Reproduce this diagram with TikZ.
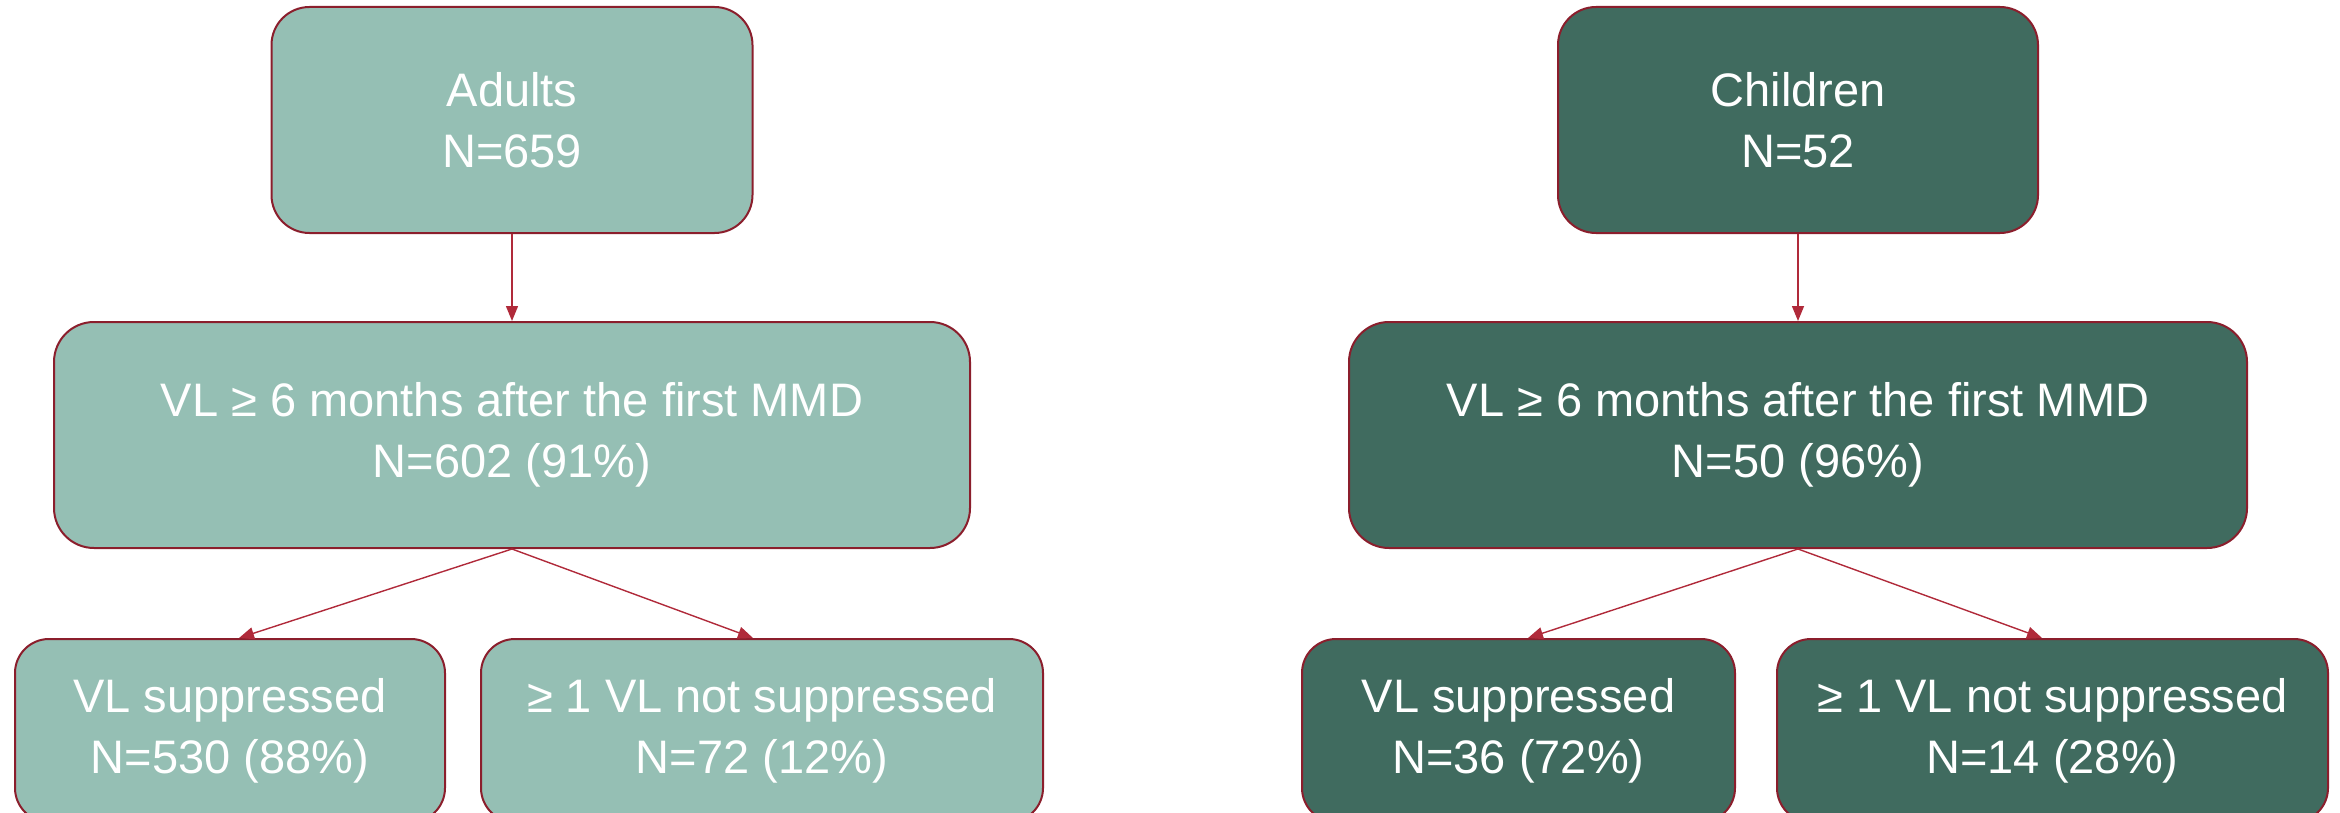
\documentclass[tikz,border=0pt]{standalone}
\usepackage{fontspec}
\setmainfont{Liberation Sans}
\usetikzlibrary{arrows.meta,calc}
\definecolor{lightteal}{HTML}{95BFB4}
\definecolor{darkteal}{HTML}{406B5F}
\definecolor{boxborder}{HTML}{8B1E2C}
\definecolor{arrowred}{HTML}{B02A3A}
\tikzset{
  box/.style={draw=boxborder, line width=1pt, text=white, align=center,
    font=\fontsize{23.5}{30.5}\selectfont, inner sep=0pt},
  lightbox/.style={box, fill=lightteal},
  darkbox/.style={box, fill=darkteal},
  link/.style={draw=arrowred, line width=0.7pt, -{Triangle[length=7.5pt,width=6pt]}}
}
\begin{document}
\begin{tikzpicture}[x=0.5pt,y=-0.5pt]
\useasboundingbox (0,0) rectangle (2340,813);
\clip (0,0) rectangle (2340,813);
% Adults
\node[lightbox, minimum width=240.5pt, minimum height=113pt, rounded corners=19pt] (adults) at (512,120) {Adults\\N=659};
\node[lightbox, minimum width=458pt, minimum height=113pt, rounded corners=20pt] (amid) at (512,435) {VL ≥ 6 months after the first MMD\\N=602 (91\%)};
\node[lightbox, minimum width=215pt, minimum height=91.5pt, rounded corners=17pt] (asup) at (230,730.5) {VL suppressed\\N=530 (88\%)};
\node[lightbox, minimum width=281pt, minimum height=91.5pt, rounded corners=17pt] (anot) at (762,730.5) {≥ 1 VL not suppressed\\N=72 (12\%)};
% Children
\node[darkbox, minimum width=240pt, minimum height=113pt, rounded corners=19pt] (children) at (1798,120) {Children\\N=52};
\node[darkbox, minimum width=449pt, minimum height=113pt, rounded corners=20pt] (cmid) at (1798,435) {VL ≥ 6 months after the first MMD\\N=50 (96\%)};
\node[darkbox, minimum width=216.5pt, minimum height=91.5pt, rounded corners=17pt] (csup) at (1518.5,730.5) {VL suppressed\\N=36 (72\%)};
\node[darkbox, minimum width=275.5pt, minimum height=91.5pt, rounded corners=17pt] (cnot) at (2052.5,730.5) {≥ 1 VL not suppressed\\N=14 (28\%)};
% connectors
\draw[link] (adults.south) -- (amid.north);
\draw[link] (amid.south) -- ($(asup.north)+(9,0)$);
\draw[link] (amid.south) -- ($(anot.north)+(-9,0)$);
\draw[link] (children.south) -- (cmid.north);
\draw[link] (cmid.south) -- ($(csup.north)+(9.5,0)$);
\draw[link] (cmid.south) -- ($(cnot.north)+(-10.5,0)$);
\end{tikzpicture}
\end{document}
